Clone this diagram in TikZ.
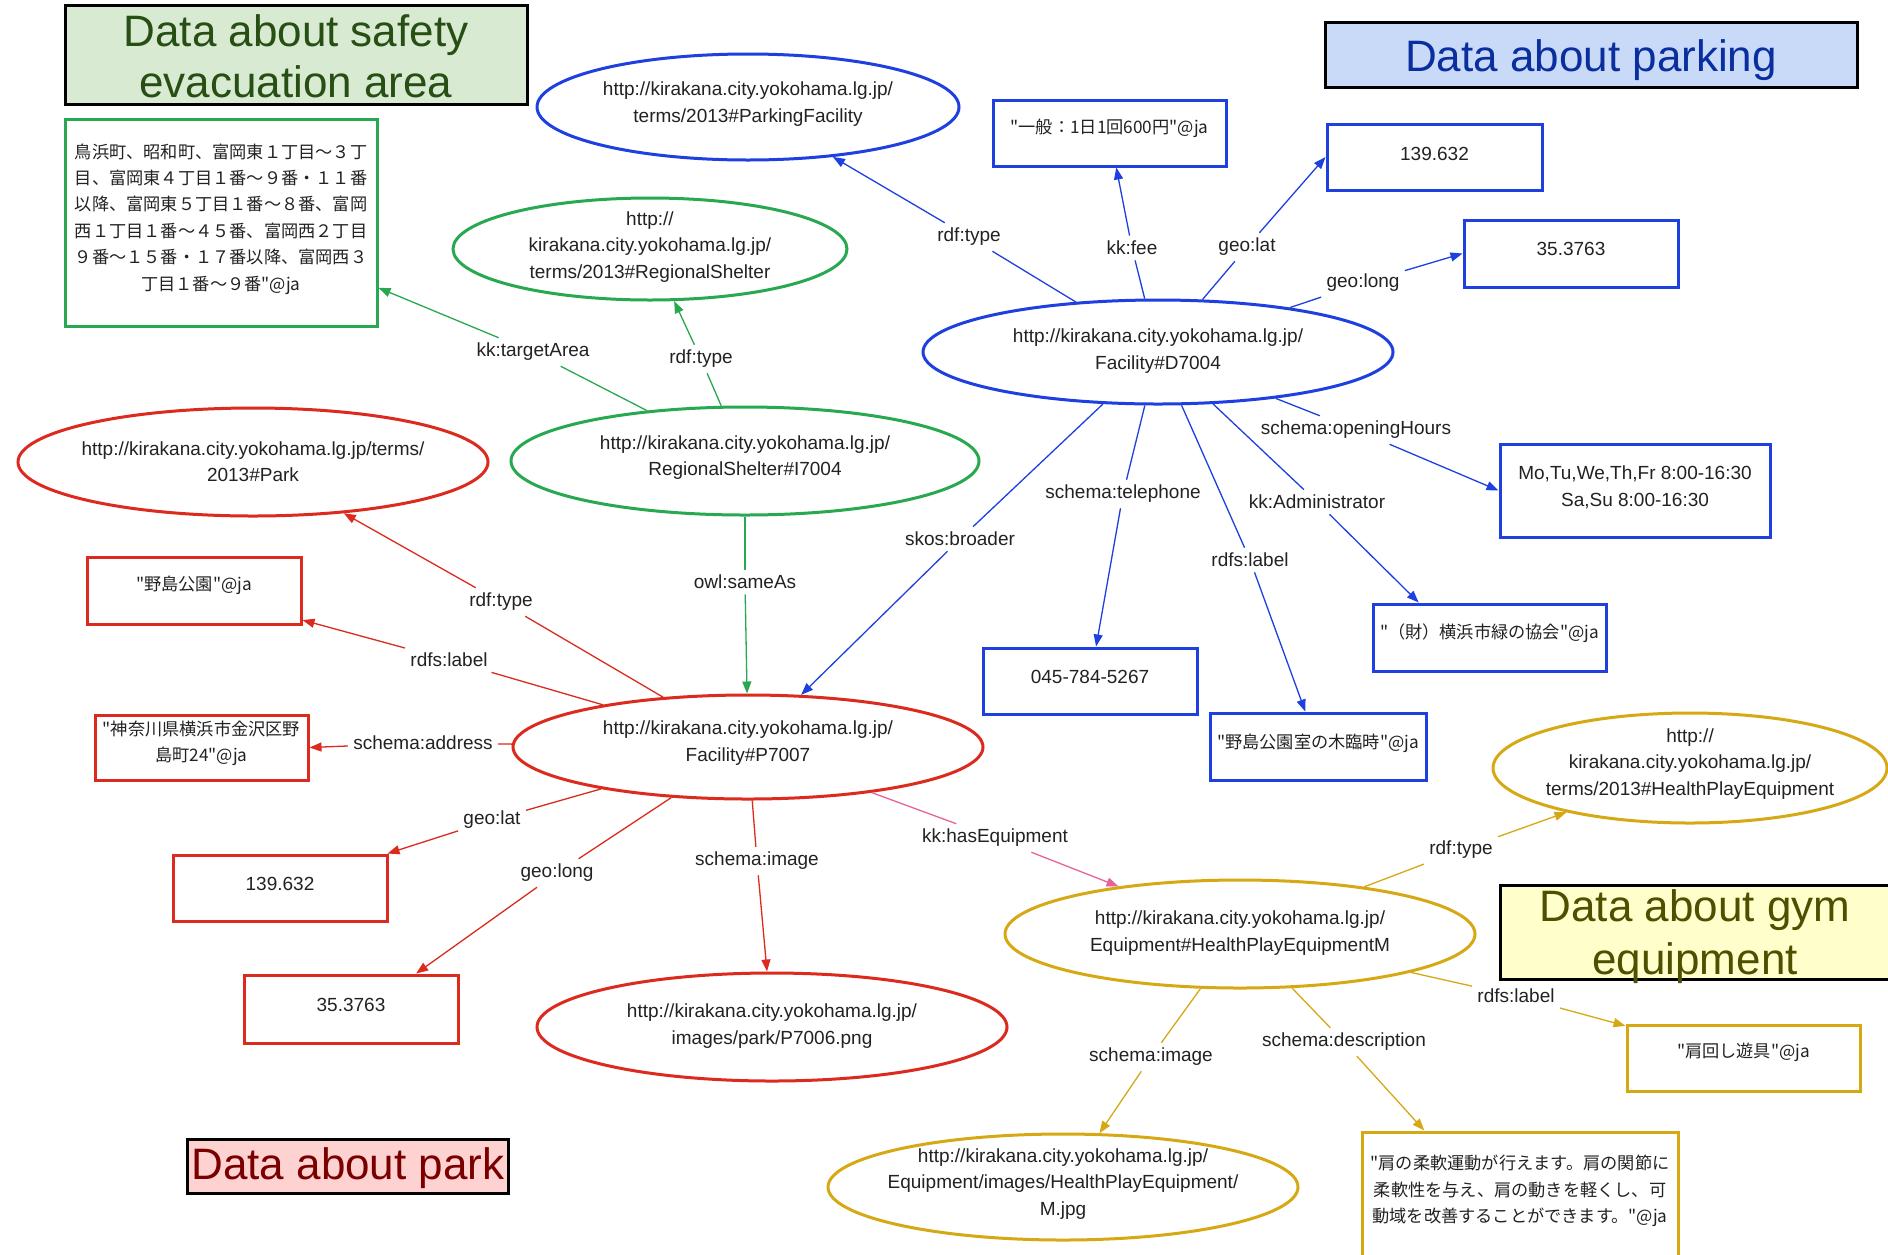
\documentclass[tikz,border=0pt]{standalone}
\usepackage{fontspec}
\setmainfont{Liberation Sans}
\newfontfamily\jpf{Noto Sans CJK JP}
\usetikzlibrary{shapes.geometric,arrows.meta,calc}
\definecolor{cB}{HTML}{1E40E0}
\definecolor{cG}{HTML}{28A850}
\definecolor{cR}{HTML}{DC2A1E}
\definecolor{cY}{HTML}{D6A914}
\definecolor{cP}{HTML}{E8629C}
\definecolor{tc}{HTML}{222222}
\definecolor{hGf}{HTML}{D9EAD3}
\definecolor{hGt}{HTML}{274E13}
\definecolor{hBf}{HTML}{C9DAF8}
\definecolor{hBt}{HTML}{0A2E9E}
\definecolor{hYf}{HTML}{FFFFCC}
\definecolor{hYt}{HTML}{4F4F00}
\definecolor{hRf}{HTML}{FFD2D2}
\definecolor{hRt}{HTML}{7A0000}
\newcommand\fntL{\fontsize{9.5pt}{13.2pt}\selectfont}
\newcommand\fntJ{\jpf\fontsize{8.6pt}{13.2pt}\selectfont}
\newcommand\fntH{\fontsize{22pt}{25.5pt}\selectfont}
\begin{document}
\begin{tikzpicture}[x=0.5pt,y=-0.5pt,
  ell/.style={ellipse, line width=1.5pt, inner sep=0pt},
  bx/.style={rectangle, line width=1.5pt, inner sep=0pt},
  tl/.style={align=center, inner sep=0pt, font=\fntL, text=tc},
  tj/.style={align=center, inner sep=0pt, font=\fntJ, text=tc},
  lab/.style={font=\fntL, inner sep=2.5pt, text=tc},
  ln/.style={line width=0.65pt},
  ar/.style={line width=0.65pt, -{Triangle[length=6pt,width=4.5pt]}},
  hd/.style={rectangle, draw=black, line width=1.5pt, inner sep=0pt},
  ht/.style={inner sep=0pt, align=center, font=\fntH}]
\useasboundingbox (0,0) rectangle (1888,1254);
\clip (0,0) rectangle (1888,1254);
\fill[white] (0,0) rectangle (1888,1254);

% ---------- headers ----------
\node[hd, fill=hGf, minimum width=231pt, minimum height=49.5pt] (hG) at (296,54.5) {};
\node[ht, text=hGt] (hGt) at (296,56) {Data about safety\\evacuation area};
\node[hd, fill=hBf, minimum width=266pt, minimum height=32.5pt] (hB) at (1591,54.5) {};
\node[ht, text=hBt] (hBt) at (1591,60) {Data about parking};
\node[hd, fill=hYf, minimum width=200pt, minimum height=47pt] (hY) at (1700,932) {};
\node[ht, text=hYt, font=\fontsize{22pt}{26.5pt}\selectfont] (hYt) at (1695,937) {Data about gym\\equipment};
\node[hd, fill=hRf, minimum width=160.5pt, minimum height=27pt] (hR) at (347.5,1166) {};
\node[ht, text=hRt] (hRt) at (348,1168) {Data about park};

% ---------- blue (parking) ----------
\node[ell, draw=cB, minimum width=211pt, minimum height=53pt] (PF) at (748,107) {};
\node[tl] (PFt) at (748,104) {http://kirakana.city.yokohama.lg.jp/\\terms/2013\#ParkingFacility};
\node[ell, draw=cB, minimum width=235pt, minimum height=52pt] (D7004) at (1158,352) {};
\node[tl] (D7004t) at (1158,351) {http://kirakana.city.yokohama.lg.jp/\\Facility\#D7004};

\node[bx, draw=cB, minimum width=116.5pt, minimum height=33pt] (fee) at (1109.5,133) {};
\node[tj] (feet) at (1109.5,128) {"一般：1日1回600円"@ja};
\node[bx, draw=cB, minimum width=107.5pt, minimum height=33pt] (blat) at (1434.5,157) {};
\node[tl] (blatt) at (1434.5,154) {139.632};
\node[bx, draw=cB, minimum width=107pt, minimum height=33.5pt] (blong) at (1571,253.5) {};
\node[tl] (blongt) at (1571,249) {35.3763};
\node[bx, draw=cB, minimum width=135pt, minimum height=46.5pt] (hours) at (1635,490.5) {};
\node[tl] (hourst) at (1635,487.5) {Mo,Tu,We,Th,Fr 8:00-16:30\\Sa,Su 8:00-16:30};
\node[bx, draw=cB, minimum width=116.5pt, minimum height=33.5pt] (adm) at (1489.5,637.5) {};
\node[tj] (admt) at (1489.5,633) {"（財）横浜市緑の協会"@ja};
\node[bx, draw=cB, minimum width=108pt, minimum height=33.5pt] (blbl) at (1318,746.5) {};
\node[tj] (blblt) at (1318,743) {"野島公園室の木臨時"@ja};
\node[bx, draw=cB, minimum width=107pt, minimum height=33pt] (tel) at (1090,681) {};
\node[tl] (telt) at (1090,677) {045-784-5267};

% ---------- green (shelter) ----------
\node[ell, draw=cG, minimum width=197pt, minimum height=51pt] (RS) at (650,249) {};
\node[tl] (RSt) at (650,247) {http://\\kirakana.city.yokohama.lg.jp/\\terms/2013\#RegionalShelter};
\node[ell, draw=cG, minimum width=234pt, minimum height=54pt] (I7004) at (745,461) {};
\node[tl] (I7004t) at (745,457.5) {http://kirakana.city.yokohama.lg.jp/\\RegionalShelter\#I7004};
\node[bx, draw=cG, minimum width=156pt, minimum height=103.5pt] (area) at (221,222.5) {};
\node[tj] (areat) at (221,219) {鳥浜町、昭和町、富岡東１丁目〜３丁\\目、富岡東４丁目１番〜９番・１１番\\以降、富岡東５丁目１番〜８番、富岡\\西１丁目１番〜４５番、富岡西２丁目\\９番〜１５番・１７番以降、富岡西３\\丁目１番〜９番"@ja};

% ---------- red (park) ----------
\node[ell, draw=cR, minimum width=235pt, minimum height=54pt] (Park) at (253,462) {};
\node[tl] (Parkt) at (253,461.5) {http://kirakana.city.yokohama.lg.jp/terms/\\2013\#Park};
\node[ell, draw=cR, minimum width=235pt, minimum height=52pt] (P7007) at (748,747) {};
\node[tl] (P7007t) at (748,743) {http://kirakana.city.yokohama.lg.jp/\\Facility\#P7007};
\node[ell, draw=cR, minimum width=235pt, minimum height=54pt] (P7006) at (772,1027) {};
\node[tl] (P7006t) at (772,1026) {http://kirakana.city.yokohama.lg.jp/\\images/park/P7006.png};
\node[bx, draw=cR, minimum width=107pt, minimum height=33.5pt] (rname) at (194,590.5) {};
\node[tj] (rnamet) at (194,585) {"野島公園"@ja};
\node[bx, draw=cR, minimum width=106.5pt, minimum height=32.5pt] (addr) at (201.5,747.5) {};
\node[tj] (addrt) at (201.5,743) {"神奈川県横浜市金沢区野\\島町24"@ja};
\node[bx, draw=cR, minimum width=107pt, minimum height=33pt] (rlat) at (280,888) {};
\node[tl] (rlatt) at (280,884) {139.632};
\node[bx, draw=cR, minimum width=107pt, minimum height=34pt] (rlong) at (351,1009) {};
\node[tl] (rlongt) at (351,1005) {35.3763};

% ---------- yellow (equipment) ----------
\node[ell, draw=cY, minimum width=235pt, minimum height=54pt] (EqM) at (1240,934) {};
\node[tl] (EqMt) at (1240,933) {http://kirakana.city.yokohama.lg.jp/\\Equipment\#HealthPlayEquipmentM};
\node[ell, draw=cY, minimum width=197pt, minimum height=55pt] (HPE) at (1690,768) {};
\node[tl] (HPEt) at (1690,764) {http://\\kirakana.city.yokohama.lg.jp/\\terms/2013\#HealthPlayEquipment};
\node[ell, draw=cY, minimum width=235pt, minimum height=53pt] (Mjpg) at (1063,1187) {};
\node[tl] (Mjpgt) at (1063,1184) {http://kirakana.city.yokohama.lg.jp/\\Equipment/images/HealthPlayEquipment/\\M.jpg};
\node[bx, draw=cY, minimum width=116.5pt, minimum height=33pt] (ylbl) at (1743.5,1058) {};
\node[tj] (ylblt) at (1743.5,1052) {"肩回し遊具"@ja};
\node[bx, draw=cY, minimum width=158pt, minimum height=69pt] (desc) at (1520,1201) {};
\node[tj] (desct) at (1520,1191) {"肩の柔軟運動が行えます。肩の関節に\\柔軟性を与え、肩の動きを軽くし、可\\動域を改善することができます。"@ja};

% ---------- edge labels ----------
\node[lab] (l1) at (969,237) {rdf:type};
\node[lab] (l2) at (1132,248) {kk:fee};
\node[lab] (l3) at (1247,247) {geo:lat};
\node[lab] (l4) at (1363,283) {geo:long};
\node[lab] (l5) at (1356,430) {schema:openingHours};
\node[lab] (l6) at (1317,502) {kk:Administrator};
\node[lab] (l7) at (1250,560) {rdfs:label};
\node[lab] (l8) at (1123,494) {schema:telephone};
\node[lab] (l9) at (960,539) {skos:broader};
\node[lab] (l10) at (533,352) {kk:targetArea};
\node[lab] (l11) at (701,359) {rdf:type};
\node[lab] (l12) at (745,582) {owl:sameAs};
\node[lab] (l13) at (501,602) {rdf:type};
\node[lab] (l14) at (449,660) {rdfs:label};
\node[lab] (l15) at (423,743) {schema:address};
\node[lab] (l16) at (492,820) {geo:lat};
\node[lab] (l17) at (557,873) {geo:long};
\node[lab] (l18) at (757,861) {schema:image};
\node[lab] (l19) at (995,838) {kk:hasEquipment};
\node[lab] (l20) at (1461,850) {rdf:type};
\node[lab] (l21) at (1516,996) {rdfs:label};
\node[lab] (l22) at (1151,1057) {schema:image};
\node[lab] (l23) at (1344,1042) {schema:description};

% ---------- blue edges ----------
\draw[ln,cB] (D7004) -- (l1); \draw[ar,cB] (l1) -- (PF);
\draw[ln,cB] (D7004) -- (l2); \draw[ar,cB] (l2) -- (fee);
\draw[ln,cB] (D7004) -- (l3); \draw[ar,cB] (l3) -- (blat.west);
\draw[ln,cB] (D7004) -- (l4); \draw[ar,cB] (l4) -- (blong.west);
\draw[ln,cB] (D7004) -- (l5); \draw[ar,cB] (l5) -- (hours.west);
\draw[ln,cB] (D7004) -- (l6); \draw[ar,cB] (l6) -- ($(adm.north west)!0.2!(adm.north east)$);
\draw[ln,cB] (D7004) -- (l7); \draw[ar,cB] (l7) -- (blbl);
\draw[ln,cB] (D7004) -- (l8); \draw[ar,cB] (l8) -- (tel);
\draw[ln,cB] (D7004) -- (l9); \draw[ar,cB] (l9) -- (P7007);

% ---------- green edges ----------
\draw[ln,cG] (I7004) -- (l10); \draw[ar,cG] (l10) -- (area);
\draw[ln,cG] (I7004) -- (l11); \draw[ar,cG] (l11) -- (RS);
\draw[ln,cG] (I7004) -- (l12); \draw[ar,cG] (l12) -- (P7007);

% ---------- red edges ----------
\draw[ln,cR] (P7007) -- (l13); \draw[ar,cR] (l13) -- (Park);
\draw[ln,cR] (P7007) -- (l14); \draw[ar,cR] (l14) -- (rname);
\draw[ln,cR] (P7007) -- (l15); \draw[ar,cR] (l15) -- (addr.east);
\draw[ln,cR] (P7007) -- (l16); \draw[ar,cR] (l16) -- (rlat);
\draw[ln,cR] (P7007) -- (l17); \draw[ar,cR] (l17) -- ($(rlong.north west)!0.8!(rlong.north east)$);
\draw[ln,cR] (P7007) -- (l18); \draw[ar,cR] (l18) -- (P7006);
\draw[ln,cP] (P7007) -- (l19); \draw[ar,cP] (l19) -- (EqM);

% ---------- yellow edges ----------
\draw[ln,cY] (EqM) -- (l20); \draw[ar,cY] (l20) -- (HPE);
\draw[ln,cY] (EqM) -- (l21); \draw[ar,cY] (l21) -- (ylbl);
\draw[ln,cY] (EqM) -- (l22); \draw[ar,cY] (l22) -- (Mjpg);
\draw[ln,cY] (EqM) -- (l23); \draw[ar,cY] (l23) -- ($(desc.north west)!0.2!(desc.north east)$);
\end{tikzpicture}
\end{document}
